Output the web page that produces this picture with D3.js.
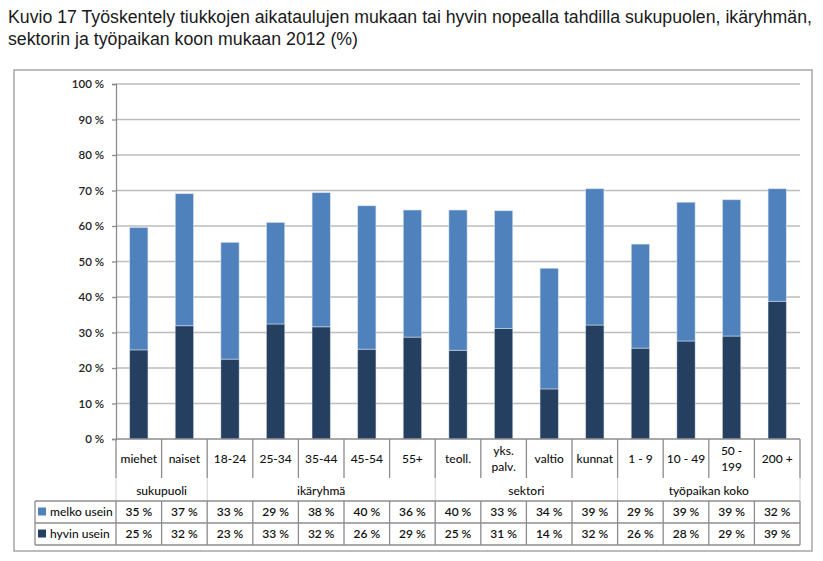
<!DOCTYPE html>
<html><head><meta charset="utf-8">
<script src="https://cdn.jsdelivr.net/npm/d3@7"></script>
<style>
body{margin:0;background:#fff;}
svg{display:block;}
</style></head>
<body>
<script>
const titleLines = ["Kuvio 17 Työskentely tiukkojen aikataulujen mukaan tai hyvin nopealla tahdilla sukupuolen, ikäryhmän,",
                    "sektorin ja työpaikan koon mukaan 2012 (%)"];
const categories = ["miehet","naiset","18-24","25-34","35-44","45-54","55+","teoll.","yks. palv.","valtio","kunnat","1 - 9","10 - 49","50 - 199","200 +"];
const categoryLines = [["miehet"],["naiset"],["18-24"],["25-34"],["35-44"],["45-54"],["55+"],["teoll."],["yks.","palv."],["valtio"],["kunnat"],["1 - 9"],["10 - 49"],["50 -","199"],["200 +"]];
const groups = ["sukupuoli","ikäryhmä","sektori","työpaikan koko"];
const groupSizes = [2,5,4,4];
const seriesNames = ["melko usein","hyvin usein"];
const hyvin = [25.1,31.9,22.5,32.4,31.6,25.3,28.7,25.0,31.1,14.1,32.1,25.6,27.6,29.0,38.8];
const melko = [34.5,37.2,32.9,28.6,37.8,40.4,35.8,39.5,33.2,34.0,38.4,29.3,39.1,38.4,31.7];
const melkoLabels = ["35 %","37 %","33 %","29 %","38 %","40 %","36 %","40 %","33 %","34 %","39 %","29 %","39 %","39 %","32 %"];
const hyvinLabels = ["25 %","32 %","23 %","33 %","32 %","26 %","29 %","25 %","31 %","14 %","32 %","26 %","28 %","29 %","39 %"];
const yTicks = [0,10,20,30,40,50,60,70,80,90,100];

(function(){
const W=823,H=561;
const colors = {melko:"#4f81bd", hyvin:"#253f60"};
const pL=116,pR=800,pT=84,base=439;
const fs=12;
const svg = d3.select("body").append("svg").attr("width",W).attr("height",H)
  .style("font-family","Lato, 'Open Sans', sans-serif");

// title
svg.append("g").selectAll("text").data(titleLines).join("text")
  .attr("x",8).attr("y",(d,i)=>23+i*22)
  .attr("font-family","'Liberation Sans', Arial, sans-serif")
  .attr("font-size",17.5).attr("fill","#1a1a1a")
  .attr("textLength",(d,i)=>i===0?804:350).attr("lengthAdjust","spacingAndGlyphs")
  .text(d=>d);

// frame
svg.append("rect").attr("x",14).attr("y",70).attr("width",798).attr("height",481)
  .attr("fill","none").attr("stroke","#a6a6a6").attr("stroke-width",1.5);

const x = d3.scaleBand().domain(categories).range([pL,pR]).paddingInner(0.6).paddingOuter(0.3);
const y = d3.scaleLinear().domain([0,100]).range([base,pT]);
const step = x.step();
const colLeft = i => pL + i*step;

// gridlines
svg.append("g").selectAll("line").data(yTicks.filter(t=>t>0)).join("line")
  .attr("x1",pL).attr("x2",pR).attr("y1",d=>y(d)).attr("y2",d=>y(d))
  .attr("stroke","#bdbdbd").attr("stroke-width",1.3);

// y axis
const yAxis = svg.append("g").attr("transform",`translate(${pL},0)`)
  .call(d3.axisLeft(y).tickValues(yTicks).tickSize(4).tickPadding(8).tickFormat(d=>d+" %"));
yAxis.select(".domain").attr("stroke","#8c8c8c").attr("stroke-width",1.3);
yAxis.selectAll(".tick line").attr("stroke","#8c8c8c").attr("stroke-width",1.3);
yAxis.selectAll(".tick text").attr("font-family","Lato, sans-serif").attr("font-size",11.5).attr("font-weight",600).attr("fill","#222");

// bars
const stack = categories.map((c,i)=>({c,h:hyvin[i],m:melko[i]}));
const gb = svg.append("g");
gb.selectAll("rect.h").data(stack).join("rect").attr("class","h")
  .attr("x",d=>x(d.c)).attr("width",x.bandwidth())
  .attr("y",d=>y(d.h)).attr("height",d=>y(0)-y(d.h))
  .attr("fill",colors.hyvin).attr("stroke","#dce6f2").attr("stroke-opacity",0.5).attr("stroke-width",0.8);
gb.selectAll("rect.m").data(stack).join("rect").attr("class","m")
  .attr("x",d=>x(d.c)).attr("width",x.bandwidth())
  .attr("y",d=>y(d.h+d.m)).attr("height",d=>y(d.h)-y(d.h+d.m))
  .attr("fill",colors.melko).attr("stroke","#dce6f2").attr("stroke-opacity",0.7).attr("stroke-width",0.8);

// x axis baseline
svg.append("line").attr("x1",pL).attr("x2",pR).attr("y1",base).attr("y2",base)
  .attr("stroke","#8c8c8c").attr("stroke-width",1.3);

const lineCol="#8c8c8c";
const catBottom=478, groupBottom=501, row1Bottom=523, row2Bottom=545, tableLeft=35;
const gl = svg.append("g");
const groupBounds=[0]; groupSizes.reduce((a,s)=>{groupBounds.push(a+s);return a+s;},0);
d3.range(categories.length+1).forEach(i=>{
  const isGroup = groupBounds.includes(i);
  gl.append("line").attr("x1",colLeft(i)).attr("x2",colLeft(i))
    .attr("y1",base).attr("y2",catBottom).attr("stroke",lineCol).attr("stroke-width",1.3);
  if(isGroup) gl.append("line").attr("x1",colLeft(i)).attr("x2",colLeft(i))
    .attr("y1",catBottom).attr("y2",groupBottom).attr("stroke","#d0d0d0").attr("stroke-width",1);
  gl.append("line").attr("x1",colLeft(i)).attr("x2",colLeft(i))
    .attr("y1",groupBottom).attr("y2",row2Bottom).attr("stroke",lineCol).attr("stroke-width",1.3);
});
[groupBottom,row1Bottom,row2Bottom].forEach(yy=>{
  gl.append("line").attr("x1",tableLeft).attr("x2",pR).attr("y1",yy).attr("y2",yy)
    .attr("stroke",lineCol).attr("stroke-width",1.3);
});
gl.append("line").attr("x1",tableLeft).attr("x2",tableLeft).attr("y1",groupBottom).attr("y2",row2Bottom)
  .attr("stroke",lineCol).attr("stroke-width",1.3);

// category labels
const cl = svg.append("g").attr("font-size",fs).attr("font-weight",500).attr("fill","#111").attr("text-anchor","middle");
categories.forEach((c,i)=>{
  const lines = categoryLines[i];
  const cx = x(c)+x.bandwidth()/2;
  lines.forEach((t,j)=>{
    cl.append("text").attr("x",cx).attr("y",463 + (j - (lines.length-1)/2)*16)
      .attr("fill","#111").text(t);
  });
});
// group labels
let acc=0;
groups.forEach((g,k)=>{
  const x0=colLeft(acc), x1=colLeft(acc+groupSizes[k]);
  svg.append("text").attr("x",(x0+x1)/2).attr("y",495).attr("text-anchor","middle")
    .attr("font-size",fs).attr("font-weight",500).attr("fill","#111").text(g);
  acc+=groupSizes[k];
});
// data rows
const rows=[{name:seriesNames[0],labels:melkoLabels,color:colors.melko,y0:groupBottom,y1:row1Bottom},
            {name:seriesNames[1],labels:hyvinLabels,color:colors.hyvin,y0:row1Bottom,y1:row2Bottom}];
rows.forEach(r=>{
  const cy=(r.y0+r.y1)/2;
  svg.append("rect").attr("x",38).attr("y",cy-4.5).attr("width",8).attr("height",8).attr("fill",r.color);
  svg.append("text").attr("x",50).attr("y",cy+4).attr("font-size",fs).attr("font-weight",500).attr("fill","#111").text(r.name);
  svg.append("g").selectAll("text").data(r.labels).join("text")
    .attr("x",(d,i)=>x(categories[i])+x.bandwidth()/2).attr("y",cy+4)
    .attr("text-anchor","middle").attr("font-size",fs).attr("font-weight",600).attr("fill","#111").text(d=>d);
});
})();
</script>
</body></html>
